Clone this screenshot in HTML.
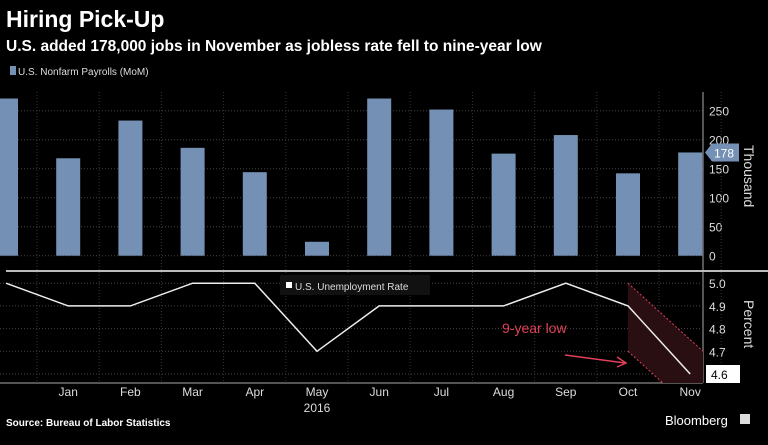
<!DOCTYPE html>
<html><head><meta charset="utf-8"><style>
body{margin:0;background:#000;width:768px;height:440px;overflow:hidden;font-family:"Liberation Sans",sans-serif;color:#fff}
</style></head><body>
<svg width="768" height="440">
<text x="6" y="27" font-size="23" font-weight="bold" fill="#fff">Hiring Pick-Up</text>
<text x="6" y="51" font-size="15.5" font-weight="bold" fill="#fff">U.S. added 178,000 jobs in November as jobless rate fell to nine-year low</text>
<rect x="10" y="66" width="6" height="9" fill="#7590b5"/>
<text x="18" y="75" font-size="10" fill="#ddd">U.S. Nonfarm Payrolls (MoM)</text>
<g id="gtop"></g><g id="gbot"></g>
<text x="6" y="426" font-size="10" font-weight="bold" fill="#fff">Source: Bureau of Labor Statistics</text>
<text x="665" y="425" font-size="13" fill="#fff">Bloomberg</text>
<rect x="740" y="414" width="10" height="10" fill="#ddd"/>
</svg>
<script>
const months=["Dec","Jan","Feb","Mar","Apr","May","Jun","Jul","Aug","Sep","Oct","Nov"];
const payrolls=[271,168,233,186,144,24,271,252,176,208,142,178];
const rate=[5.0,4.9,4.9,5.0,5.0,4.7,4.9,4.9,4.9,5.0,4.9,4.6];
const payTicks=[0,50,100,150,200,250];
const rateTicks=[4.6,4.7,4.8,4.9,5.0];
const NS="http://www.w3.org/2000/svg";
function mk(t,a,p,txt){const e=document.createElementNS(NS,t);for(const k in a)e.setAttribute(k,a[k]);if(txt!==undefined)e.textContent=txt;p.appendChild(e);return e;}
const gTop=document.getElementById('gtop'),gBot=document.getElementById('gbot');
const xC=i=>6+i*62.2;
const yP=v=>255.7-v*0.58;
const yR=v=>374-(v-4.6)*227;
const AX=703;
payTicks.forEach(t=>{let l=mk('line',{x1:0,x2:AX,y1:yP(t),y2:yP(t),stroke:'#444','stroke-dasharray':'1,2'},gTop);


let tx=mk('text',{x:AX+6,y:yP(t)+5,'font-size':12,fill:'#ddd'},gTop,t);

});
for(let i=0;i<12;i++){let x=xC(i)+31;let l=mk('line',{x1:x,x2:x,y1:92,y2:383,stroke:'#333','stroke-dasharray':'1,2'},gTop);

}
payrolls.forEach((v,i)=>{const x=Math.max(0,xC(i)-12);const w=xC(i)+12-x;
let r=mk('rect',{x:x,y:yP(v),width:w,height:yP(0)-yP(v),fill:'#7590b5'},gTop);

});
let ax=mk('line',{x1:AX,x2:AX,y1:92,y2:383,stroke:'#aaa'},gTop);


let lab=mk('polygon',{points:`${AX+2},${yP(payrolls[11])} ${AX+9},${yP(payrolls[11])-9} ${AX+36},${yP(payrolls[11])-9} ${AX+36},${yP(payrolls[11])+9} ${AX+9},${yP(payrolls[11])+9}`,fill:'#7590b5'},gTop);


let lt=mk('text',{x:AX+11,y:yP(payrolls[11])+5,'font-size':12,fill:'#fff'},gTop,payrolls[11]);


let yt=mk('text',{x:0,y:0,'font-size':14,fill:'#ddd',transform:`translate(744,145) rotate(90)`},gTop,'Thousand');


let sep=mk('line',{x1:6,x2:768,y1:271,y2:271,stroke:'#bbb','stroke-width':2},gTop);


rateTicks.forEach(t=>{let l=mk('line',{x1:0,x2:AX,y1:yR(t),y2:yR(t),stroke:'#444','stroke-dasharray':'1,2'},gBot);


if(t>4.65){let tx=mk('text',{x:AX+6,y:yR(t)+5,'font-size':12,fill:'#ddd'},gBot,t.toFixed(1));

}});
let bl=mk('line',{x1:0,x2:AX,y1:383,y2:383,stroke:'#aaa'},gBot);


const xo=xC(10),xe=AX,s=(yR(4.7)-yR(5.0))/(xe-xo);
let sh=mk('polygon',{points:`${xo},${yR(5.0)} ${xe},${yR(4.7)} ${xe},383 ${xo+(383-yR(4.7))/s},383 ${xo},${yR(4.7)}`,fill:'#2a0f12'},gBot);


let e1=mk('line',{x1:xo,y1:yR(5.0),x2:xe,y2:yR(4.7),stroke:'#e0405a','stroke-dasharray':'2,2'},gBot);


let e2=mk('line',{x1:xo,y1:yR(4.7),x2:xo+(383-yR(4.7))/s,y2:383,stroke:'#e0405a','stroke-dasharray':'2,2'},gBot);


let pl=mk('polyline',{points:rate.map((v,i)=>`${xC(i)},${yR(v)}`).join(' '),fill:'none',stroke:'#eee','stroke-width':1.5},gBot);


let lb=mk('rect',{x:280,y:275,width:150,height:20,fill:'#111'},gBot);


let sw=mk('rect',{x:286,y:282,width:6,height:6,fill:'#fff'},gBot);


let lr=mk('text',{x:295,y:290,'font-size':10,fill:'#ddd'},gBot,'U.S. Unemployment Rate');


let an=mk('text',{x:502,y:333,'font-size':14,fill:'#e0405a'},gBot,'9-year low');


let ar=mk('path',{d:`M565,355 L625,363 M617,357 L626,363 L617,367`,stroke:'#e0405a','stroke-width':1.5,fill:'none'},gBot);


let tg=mk('rect',{x:AX+3,y:yR(rate[11])-9,width:34,height:18,fill:'#fff'},gBot);


let tt=mk('text',{x:AX+8,y:yR(rate[11])+5,'font-size':12,fill:'#000'},gBot,rate[11].toFixed(1));


let pt=mk('text',{x:0,y:0,'font-size':14,fill:'#ddd',transform:`translate(744,300) rotate(90)`},gBot,'Percent');


months.forEach((m,i)=>{if(i==0)return;let t=mk('text',{x:xC(i),y:396,'font-size':12,fill:'#ddd','text-anchor':'middle'},gBot,m);

});
let yr=mk('text',{x:xC(5),y:412,'font-size':12,fill:'#ddd','text-anchor':'middle'},gBot,'2016');


</script>
</body></html>
